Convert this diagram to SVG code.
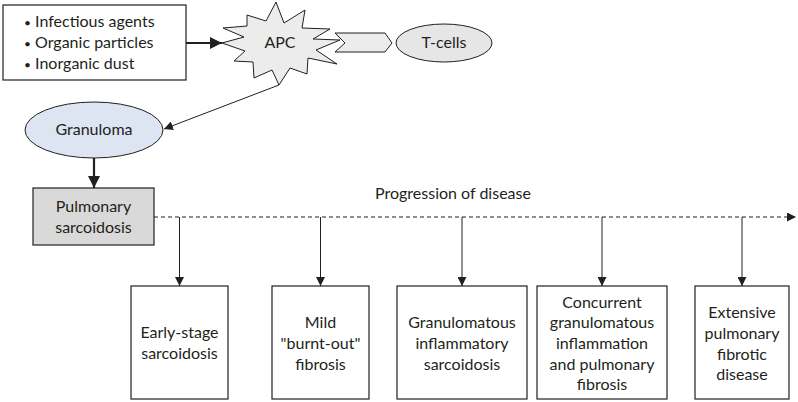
<svg xmlns="http://www.w3.org/2000/svg" width="798" height="402" viewBox="0 0 798 402">
<defs>
<style>
text{font-family:Lato,"Liberation Sans",sans-serif;font-size:16px;fill:#231f20}
.c{text-anchor:middle}
.bul{font-size:12px}
.box{fill:#fff;stroke:#231f20;stroke-width:1.2}
.thin{stroke:#231f20;stroke-width:1;fill:none}
.thick{stroke:#231f20;stroke-width:2.2;fill:none}
</style>
<marker id="big" viewBox="0 0 10 10" refX="10" refY="5" markerWidth="12" markerHeight="12" markerUnits="userSpaceOnUse" orient="auto">
<path d="M0,0 L10,5 L0,10 z" fill="#231f20"/>
</marker>
<marker id="sm" viewBox="0 0 10 10" refX="10" refY="5" markerWidth="9" markerHeight="9" markerUnits="userSpaceOnUse" orient="auto">
<path d="M0,0 L10,5 L0,10 z" fill="#231f20"/>
</marker>
</defs>
<rect width="798" height="402" fill="#fff"/>
<g id="sources">
<rect class="box" x="3" y="5" width="183" height="75"/>
<text x="24" y="27"><tspan class="bul">•</tspan> Infectious agents</text>
<text x="24" y="48"><tspan class="bul">•</tspan> Organic particles</text>
<text x="24" y="69"><tspan class="bul">•</tspan> Inorganic dust</text>
</g>
<g id="apc">
<polygon points="276,2 284,23 305,10 302,28 330,29 313,39 340,40 316,50 337,64 308,58 307,74 290,68 279,85 272,70 254,78 253,62 234,61 245,51 222,43 244,37 223,28 247,26 247,15 266,21" fill="#ececec" stroke="#231f20" stroke-width="1"/>
<text class="c" x="280" y="48">APC</text>
</g>
<g id="chevron">
<polygon points="335,33 385,33 392,43 385,52 335,52 345,43" fill="#ececec" stroke="#231f20" stroke-width="1"/>
</g>
<g id="tcells">
<ellipse cx="444" cy="43" rx="48" ry="19" fill="#e6e6e6" stroke="#231f20" stroke-width="1"/>
<text class="c" x="444" y="48">T-cells</text>
</g>
<g id="granuloma">
<ellipse cx="94" cy="130" rx="69" ry="28" fill="#dde4f2" stroke="#231f20" stroke-width="1"/>
<text class="c" x="94" y="135">Granuloma</text>
</g>
<g id="pulmonary">
<rect x="33" y="188" width="121" height="57" fill="#d9d9d9" stroke="#231f20" stroke-width="1.2"/>
<text class="c" x="93.5" y="212">Pulmonary</text>
<text class="c" x="93.5" y="233">sarcoidosis</text>
</g>
<text class="c" x="453" y="199">Progression of disease</text>
<g id="stage1">
<rect class="box" x="131" y="286" width="97" height="113"/>
<text class="c" x="179.5" y="338">Early-stage</text>
<text class="c" x="179.5" y="359">sarcoidosis</text>
</g>
<g id="stage2">
<rect class="box" x="272" y="286" width="97" height="113"/>
<text class="c" x="320.5" y="328">Mild</text>
<text class="c" x="320.5" y="349">"burnt-out"</text>
<text class="c" x="320.5" y="370">fibrosis</text>
</g>
<g id="stage3">
<rect class="box" x="397" y="286" width="130" height="113"/>
<text class="c" x="462" y="328">Granulomatous</text>
<text class="c" x="462" y="349">inflammatory</text>
<text class="c" x="462" y="370">sarcoidosis</text>
</g>
<g id="stage4">
<rect class="box" x="537" y="286" width="130" height="113"/>
<text class="c" x="602" y="308">Concurrent</text>
<text class="c" x="602" y="328">granulomatous</text>
<text class="c" x="602" y="349">inflammation</text>
<text class="c" x="602" y="370">and pulmonary</text>
<text class="c" x="602" y="390">fibrosis</text>
</g>
<g id="stage5">
<rect class="box" x="695" y="286" width="94" height="113"/>
<text class="c" x="742" y="318">Extensive</text>
<text class="c" x="742" y="339">pulmonary</text>
<text class="c" x="742" y="360">fibrotic</text>
<text class="c" x="742" y="380">disease</text>
</g>
<g id="connectors">
<line class="thick" x1="186" y1="43" x2="222" y2="43" marker-end="url(#big)"/>
<line class="thin" x1="279" y1="85" x2="164" y2="129" marker-end="url(#sm)"/>
<line class="thick" x1="94" y1="158" x2="94" y2="188" marker-end="url(#big)"/>
<line class="thin" x1="154" y1="217" x2="796" y2="217" stroke-dasharray="4,3" marker-end="url(#sm)"/>
<line class="thin" x1="179.5" y1="217" x2="179.5" y2="286" marker-end="url(#sm)"/>
<line class="thin" x1="320.5" y1="217" x2="320.5" y2="286" marker-end="url(#sm)"/>
<line class="thin" x1="462" y1="217" x2="462" y2="286" marker-end="url(#sm)"/>
<line class="thin" x1="602" y1="217" x2="602" y2="286" marker-end="url(#sm)"/>
<line class="thin" x1="742" y1="217" x2="742" y2="286" marker-end="url(#sm)"/>
</g>
</svg>
